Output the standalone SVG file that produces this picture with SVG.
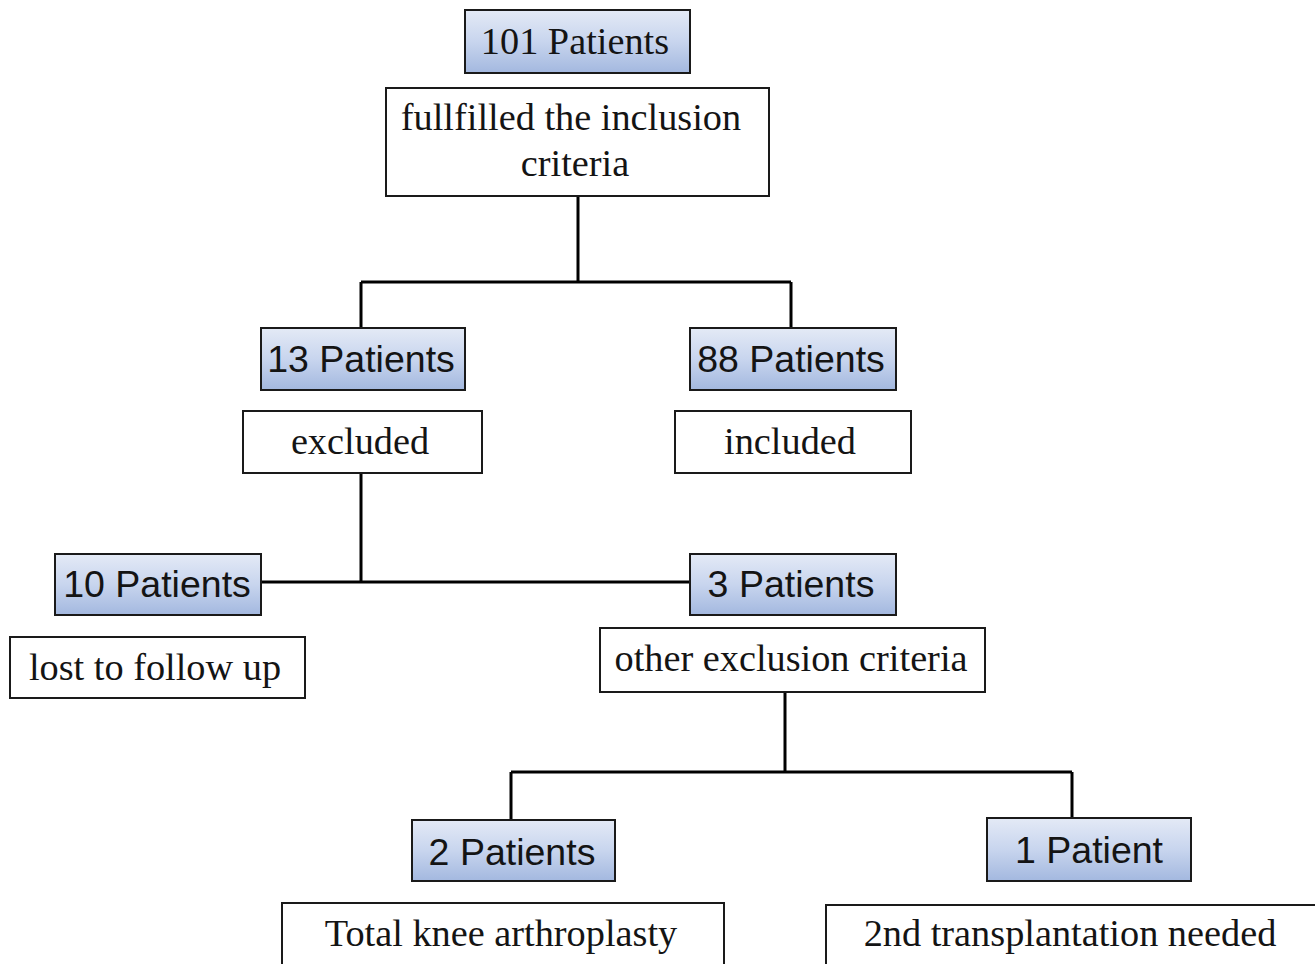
<svg xmlns="http://www.w3.org/2000/svg" width="1315" height="964" viewBox="0 0 1315 964">
<defs>
<linearGradient id="blue" x1="0" y1="0" x2="0" y2="1">
<stop offset="0" stop-color="#e4eaf6"/>
<stop offset="0.5" stop-color="#c8d5ee"/>
<stop offset="1" stop-color="#a3b8df"/>
</linearGradient>
</defs>
<style>
.b{fill:url(#blue);stroke:#1a1a1a;stroke-width:2}
.w{fill:#fff;stroke:#1a1a1a;stroke-width:2}
.s{font-family:"Liberation Sans",Arial,sans-serif;font-size:37.5px;fill:#141414;text-anchor:middle}
.t{font-family:"Liberation Serif","Times New Roman",serif;font-size:38.3px;fill:#141414;text-anchor:middle}
.c{fill:none;stroke:#000;stroke-width:3}
</style>
<rect width="1315" height="964" fill="#fff"/>
<g id="connectors">
<path class="c" d="M578 196V282M361 282H791M361 282V328M791 282V328"/>
<path class="c" d="M361 473V582M261 582H690"/>
<path class="c" d="M785 692V772M511 772H1072M511 772V820M1072 772V818"/>
</g>
<g id="n101"><rect class="b" x="465" y="10" width="225" height="63"/><text class="t" x="575" y="54">101 Patients</text></g>
<g id="incl-criteria"><rect class="w" x="386" y="88" width="383" height="108"/><text class="t" x="571" y="130">fullfilled the inclusion</text><text class="t" x="575" y="176">criteria</text></g>
<g id="n13"><rect class="b" x="261" y="328" width="204" height="62"/><text class="s" x="361" y="372">13 Patients</text></g>
<g id="n88"><rect class="b" x="690" y="328" width="206" height="62"/><text class="s" x="791" y="372">88 Patients</text></g>
<g id="excluded"><rect class="w" x="243" y="411" width="239" height="62"/><text class="t" x="360" y="454">excluded</text></g>
<g id="included"><rect class="w" x="675" y="411" width="236" height="62"/><text class="t" x="790" y="454">included</text></g>
<g id="n10"><rect class="b" x="55" y="554" width="206" height="61"/><text class="s" x="157" y="597">10 Patients</text></g>
<g id="n3"><rect class="b" x="690" y="554" width="206" height="61"/><text class="s" x="791" y="597">3 Patients</text></g>
<g id="lost"><rect class="w" x="10" y="637" width="295" height="61"/><text class="t" x="155" y="680">lost to follow up</text></g>
<g id="other"><rect class="w" x="600" y="628" width="385" height="64"/><text class="t" x="791" y="671">other exclusion criteria</text></g>
<g id="n2"><rect class="b" x="412" y="820" width="203" height="61"/><text class="s" x="512" y="865">2 Patients</text></g>
<g id="n1"><rect class="b" x="987" y="818" width="204" height="63"/><text class="s" x="1089" y="863">1 Patient</text></g>
<g id="tka"><rect class="w" x="282" y="903" width="442" height="70"/><text class="t" x="501" y="946">Total knee arthroplasty</text></g>
<g id="second"><rect class="w" x="826" y="905" width="500" height="70"/><text class="t" x="1070" y="946">2nd transplantation needed</text></g>
</svg>
